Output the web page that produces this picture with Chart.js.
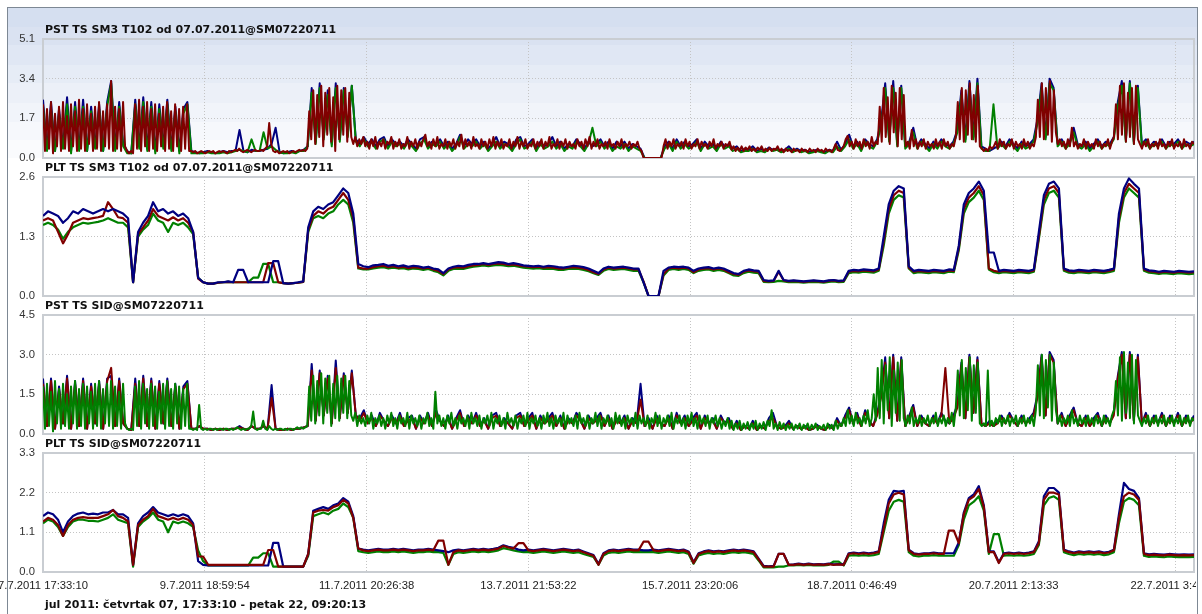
<!DOCTYPE html>
<html>
<head>
<meta charset="utf-8">
<script src="https://cdn.jsdelivr.net/npm/chart.js@4.4.0/dist/chart.umd.min.js"></script>
<style>
  html, body { margin: 0; padding: 0; width: 1202px; height: 614px; overflow: hidden; background: #fff; }
  #frame {
    position: absolute; left: 7px; top: 7px; width: 1189px; height: 620px;
    border: 1px solid #7d8894; border-bottom: none;
    background: linear-gradient(to bottom,
      #d5dff0 0px, #d5dff0 19px, #dae2f1 19px, #dae2f1 37px,
      #e0e7f4 37px, #e0e7f4 57px, #e6ecf6 57px, #e6ecf6 75px,
      #ecf0f8 75px, #ecf0f8 95px, #f1f4fa 95px, #f1f4fa 114px,
      #f6f8fc 114px, #f6f8fc 132px, #fafbfd 132px, #fafbfd 150px,
      #ffffff 150px, #ffffff 100%);
  }
  .panel { position: absolute; left: 0; }
  .title {
    position: absolute; left: 45px; line-height: 13px; white-space: nowrap;
    font: bold 11px "DejaVu Sans", Verdana, sans-serif; color: #111;
  }
</style>
</head>
<body>
<div id="frame"></div>
<canvas id="c1" class="panel" width="1196" height="135" style="top:31px"></canvas>
<canvas id="c2" class="panel" width="1196" height="135" style="top:169px"></canvas>
<canvas id="c3" class="panel" width="1196" height="135" style="top:307px"></canvas>
<canvas id="c4" class="panel" width="1196" height="157" style="top:445px"></canvas>
<div class="title" style="top:23px">PST TS SM3 T102 od 07.07.2011@SM07220711</div>
<div class="title" style="top:161px">PLT TS SM3 T102 od 07.07.2011@SM07220711</div>
<div class="title" style="top:299px">PST TS SID@SM07220711</div>
<div class="title" style="top:437px">PLT TS SID@SM07220711</div>
<div class="title" style="top:598px">jul 2011: četvrtak 07, 17:33:10 - petak 22, 09:20:13</div>
<script>
// time axis: seconds from 7.7.2011 17:33:10 to 22.7.2011 09:20:13
const TOTAL_SEC = 1266423;
const xTickSecs = [0, 178004, 356008, 534012, 712016, 890019, 1068023, 1246027];
const xTickLabels = ['7.7.2011 17:33:10', '9.7.2011 18:59:54', '11.7.2011 20:26:38', '13.7.2011 21:53:22',
  '15.7.2011 23:20:06', '18.7.2011 0:46:49', '20.7.2011 2:13:33', '22.7.2011 3:40:17'];

const yTicksPstSm3 = [0, 1.7, 3.4, 5.1];
const yTicksPltSm3 = [0, 1.3, 2.6];
const yTicksPstSid = [0, 1.5, 3.0, 4.5];
const yTicksPltSid = [0, 1.1, 2.2, 3.3];

// PST TS SM3 T102, red (576 samples)
const pstSm3Red = [
  2.3, 0.3, 2.1, 0.4, 2.4, 0.2, 1.9, 0.5, 2.2, 0.3,
  2.4, 0.4, 1.8, 0.3, 2.3, 0.5, 2.0, 0.3, 2.5, 0.4,
  2.1, 0.3, 2.3, 0.6, 1.9, 0.3, 2.2, 0.4, 2.4, 0.3,
  2.0, 0.5, 2.3, 0.4, 3.3, 0.3, 2.2, 0.4, 2.1, 0.3,
  2.4, 0.5, 0.3, 0.2, 0.3, 0.2, 2.3, 0.4, 2.5, 0.3,
  2.2, 0.5, 2.4, 0.3, 2.1, 0.4, 2.3, 0.3, 1.9, 0.5,
  2.2, 0.3, 2.4, 0.4, 2.0, 0.3, 2.3, 0.5, 2.1, 0.3,
  2.2, 0.4, 2.3, 0.3, 0.3, 0.25, 0.3, 0.2, 0.25, 0.3,
  0.25, 0.2, 0.25, 0.3, 0.25, 0.3, 0.2, 0.25, 0.3, 0.25,
  0.3, 0.25, 0.2, 0.3, 0.25, 0.3, 0.35, 0.3, 0.4, 0.3,
  0.25, 0.3, 0.35, 0.3, 0.25, 0.3, 0.35, 0.3, 0.3, 0.35,
  0.3, 0.4, 0.5, 1.5, 0.6, 0.3, 0.25, 0.3, 0.2, 0.25,
  0.3, 0.25, 0.3, 0.2, 0.25, 0.3, 0.25, 0.3, 0.35, 0.3,
  0.35, 0.3, 0.4, 2.0, 0.8, 2.9, 0.6, 2.7, 0.9, 3.1,
  0.5, 2.8, 1.0, 3.0, 0.7, 2.6, 0.3, 3.1, 0.8, 2.9,
  1.0, 3.0, 0.7, 2.8, 0.9, 0.6, 0.9, 0.5, 0.8, 0.6,
  0.9, 0.5, 0.7, 0.4, 0.8, 0.5, 0.9, 0.4, 0.7, 0.5,
  0.8, 0.4, 0.7, 0.6, 0.9, 0.4, 0.7, 0.5, 0.8, 0.4,
  0.6, 0.5, 0.9, 0.4, 0.7, 0.5, 0.8, 0.4, 0.7, 0.5,
  0.8, 1.0, 0.5, 0.7, 0.4, 0.8, 0.5, 0.9, 0.4, 0.6,
  0.5, 0.8, 0.4, 0.7, 0.5, 0.8, 0.4, 0.7, 0.5, 1.0,
  0.4, 0.8, 0.5, 0.7, 0.4, 0.9, 0.5, 0.6, 0.4, 0.8,
  0.5, 0.7, 0.4, 0.8, 0.5, 0.9, 0.4, 0.7, 0.5, 0.8,
  0.4, 0.6, 0.5, 0.8, 0.4, 0.7, 0.5, 0.9, 0.4, 0.7,
  0.5, 0.8, 0.4, 0.6, 0.5, 0.8, 0.4, 0.7, 0.5, 0.8,
  0.4, 0.7, 0.5, 0.9, 0.4, 0.6, 0.5, 0.8, 0.4, 0.7,
  0.5, 0.8, 0.4, 0.7, 0.5, 0.6, 0.4, 0.8, 0.5, 0.7,
  0.4, 0.8, 0.5, 0.9, 0.4, 0.7, 0.5, 0.8, 0.4, 0.6,
  0.5, 0.7, 0.4, 0.8, 0.5, 0.6, 0.4, 0.7, 0.5, 0.8,
  0.4, 0.6, 0.5, 0.7, 0.4, 0.6, 0.5, 0.7, 0.4, 0.3,
  0, 0, 0, 0, 0, 0, 0, 0, 0, 0,
  0.5, 0.8, 0.4, 0.7, 0.5, 0.8, 0.4, 0.6, 0.5, 0.7,
  0.4, 0.8, 0.5, 0.7, 0.4, 0.6, 0.5, 0.8, 0.4, 0.7,
  0.5, 0.6, 0.4, 0.7, 0.5, 0.8, 0.4, 0.6, 0.5, 0.7,
  0.4, 0.6, 0.5, 0.7, 0.35, 0.5, 0.3, 0.45, 0.3, 0.5,
  0.3, 0.45, 0.35, 0.5, 0.3, 0.4, 0.3, 0.45, 0.35, 0.5,
  0.3, 0.4, 0.3, 0.45, 0.3, 0.4, 0.35, 0.5, 0.3, 0.4,
  0.25, 0.4, 0.3, 0.35, 0.25, 0.4, 0.3, 0.35, 0.25, 0.4,
  0.3, 0.35, 0.25, 0.4, 0.3, 0.35, 0.25, 0.4, 0.3, 0.35,
  0.25, 0.4, 0.3, 0.35, 0.25, 0.4, 0.6, 0.35, 0.3, 0.4,
  0.5, 0.8, 0.95, 0.5, 0.7, 0.4, 0.8, 0.5, 0.7, 0.4,
  0.8, 0.5, 0.7, 0.4, 0.9, 0.5, 0.7, 0.6, 2.2, 0.7,
  3.0, 0.9, 2.6, 0.6, 3.1, 1.1, 2.8, 0.5, 3.0, 0.8,
  2.7, 0.5, 0.7, 0.4, 1.2, 0.5, 0.8, 0.4, 0.7, 0.5,
  0.8, 0.4, 0.7, 0.5, 0.6, 0.4, 0.8, 0.5, 0.7, 0.4,
  0.8, 0.5, 0.7, 0.4, 0.6, 0.5, 0.9, 2.4, 0.8, 3.0,
  0.7, 2.9, 1.0, 3.2, 0.8, 2.7, 0.7, 3.1, 0.5, 0.4,
  0.3, 0.4, 0.3, 0.5, 0.4, 0.5, 0.7, 0.4, 0.8, 0.5,
  0.7, 0.4, 0.6, 0.5, 0.8, 0.4, 0.7, 0.5, 0.6, 0.4,
  0.8, 0.5, 0.7, 0.4, 0.6, 0.5, 0.9, 2.5, 0.9, 3.2,
  0.8, 3.0, 1.0, 3.3, 0.7, 2.9, 1.1, 0.6, 0.8, 0.5,
  0.7, 0.4, 0.8, 0.5, 1.3, 0.5, 0.7, 0.4, 0.6, 0.5,
  0.8, 0.4, 0.7, 0.5, 0.6, 0.4, 0.8, 0.5, 0.7, 0.4,
  0.6, 0.5, 0.8, 0.4, 0.7, 0.9, 2.3, 0.8, 3.1, 1.0,
  3.2, 0.7, 2.8, 0.9, 3.0, 0.6, 3.1, 0.8, 0.6, 0.4,
  0.7, 0.5, 0.8, 0.4, 0.6, 0.5, 0.7, 0.4, 0.8, 0.5,
  0.6, 0.4, 0.7, 0.5, 0.8, 0.4, 0.6, 0.5, 0.7, 0.4,
  0.8, 0.5, 0.6, 0.4, 0.7, 0.6
];
// PST TS SM3 T102, blue and green (288 samples)
const pstSm3Blue = [
  2.5, 0.4, 2.4, 0.3, 2.1, 0.5, 2.6, 0.3, 2.4, 0.4,
  2.5, 0.3, 2.2, 0.5, 2.3, 0.3, 2.4, 3.3, 0.4, 2.4,
  0.6, 0.3, 0.2, 2.5, 0.5, 2.6, 0.4, 2.4, 0.3, 2.3,
  0.5, 2.5, 0.4, 2.2, 0.3, 2.1, 2.4, 0.3, 0.25, 0.2,
  0.25, 0.3, 0.25, 0.2, 0.25, 0.3, 0.25, 0.3, 0.3, 1.2,
  0.3, 0.25, 0.35, 0.3, 0.3, 0.35, 0.4, 0.6, 1.3, 0.25,
  0.2, 0.25, 0.3, 0.25, 0.3, 0.35, 0.5, 3.0, 0.7, 3.2,
  0.9, 2.9, 0.6, 3.2, 0.8, 3.0, 1.0, 3.1, 0.8, 0.6,
  0.9, 0.6, 0.8, 0.5, 0.8, 0.9, 0.5, 0.8, 0.6, 0.7,
  0.5, 0.8, 0.6, 0.4, 0.8, 0.9, 0.5, 0.7, 0.6, 0.8,
  0.5, 0.7, 0.4, 0.6, 1.0, 0.5, 0.8, 0.6, 0.8, 0.5,
  0.7, 0.4, 0.6, 0.9, 0.5, 0.7, 0.6, 0.4, 0.8, 0.9,
  0.5, 0.6, 0.8, 0.4, 0.7, 0.5, 0.6, 0.9, 0.5, 0.7,
  0.4, 0.6, 0.5, 0.8, 0.6, 0.4, 0.7, 0.5, 0.6, 0.8,
  0.5, 0.7, 0.4, 0.7, 0.5, 0.7, 0.4, 0.6, 0.5, 0.4,
  0, 0, 0, 0, 0, 0.5, 0.7, 0.4, 0.8, 0.5,
  0.7, 0.5, 0.6, 0.8, 0.4, 0.7, 0.5, 0.6, 0.4, 0.7,
  0.5, 0.6, 0.4, 0.5, 0.3, 0.4, 0.35, 0.5, 0.3, 0.4,
  0.3, 0.45, 0.35, 0.4, 0.3, 0.35, 0.5, 0.3, 0.4, 0.3,
  0.35, 0.25, 0.3, 0.35, 0.3, 0.25, 0.35, 0.3, 0.7, 0.35,
  0.6, 1.0, 0.5, 0.7, 0.4, 0.8, 0.6, 0.5, 0.8, 1.6,
  3.2, 0.8, 3.3, 0.6, 3.1, 0.5, 0.7, 1.3, 0.5, 0.8,
  0.6, 0.4, 0.7, 0.5, 0.8, 0.6, 0.5, 0.7, 1.2, 2.9,
  0.8, 3.3, 0.9, 3.4, 0.5, 0.4, 0.3, 0.4, 0.5, 0.7,
  0.5, 0.8, 0.6, 0.4, 0.7, 0.5, 0.6, 0.8, 1.7, 3.2,
  0.9, 3.4, 3.0, 0.6, 0.8, 0.5, 0.7, 1.3, 0.6, 0.5,
  0.7, 0.4, 0.6, 0.8, 0.5, 0.7, 0.6, 0.9, 2.4, 3.3,
  0.8, 3.3, 0.7, 3.1, 0.6, 0.8, 0.5, 0.7, 0.6, 0.8,
  0.5, 0.7, 0.6, 0.8, 0.5, 0.7, 0.6, 0.7
];
const pstSm3Green = [
  2.2, 0.3, 2.1, 0.3, 1.9, 0.4, 2.3, 0.2, 2.2, 0.3,
  2.2, 0.3, 2.0, 0.4, 2.1, 0.3, 2.2, 3.2, 0.3, 2.2,
  0.5, 0.2, 0.2, 2.3, 0.4, 2.4, 0.3, 2.2, 0.2, 2.1,
  0.4, 2.3, 0.3, 2.0, 0.2, 1.9, 2.3, 0.2, 0.2, 0.2,
  0.2, 0.25, 0.2, 0.2, 0.2, 0.25, 0.2, 0.25, 0.3, 0.35,
  0.3, 0.25, 0.8, 0.3, 0.3, 1.1, 0.4, 0.5, 0.35, 0.25,
  0.2, 0.2, 0.25, 0.2, 0.3, 0.3, 0.5, 2.8, 0.6, 3.0,
  0.8, 2.7, 0.5, 3.0, 0.7, 2.9, 0.9, 3.1, 0.7, 0.5,
  0.8, 0.5, 0.7, 0.4, 0.7, 0.8, 0.4, 0.7, 0.5, 0.6,
  0.4, 0.7, 0.5, 0.3, 0.6, 0.8, 0.4, 0.6, 0.5, 0.7,
  0.4, 0.6, 0.3, 0.5, 0.9, 0.4, 0.6, 0.5, 0.7, 0.4,
  0.6, 0.3, 0.5, 0.7, 0.4, 0.6, 0.5, 0.3, 0.6, 0.8,
  0.4, 0.5, 0.7, 0.3, 0.6, 0.4, 0.5, 0.7, 0.4, 0.6,
  0.3, 0.5, 0.4, 0.7, 0.5, 0.3, 0.6, 1.3, 0.5, 0.7,
  0.4, 0.6, 0.3, 0.5, 0.4, 0.6, 0.3, 0.5, 0.4, 0.3,
  0, 0, 0, 0, 0, 0.4, 0.6, 0.3, 0.7, 0.4,
  0.6, 0.4, 0.5, 0.7, 0.3, 0.6, 0.4, 0.5, 0.3, 0.6,
  0.4, 0.5, 0.3, 0.4, 0.25, 0.3, 0.3, 0.4, 0.25, 0.3,
  0.25, 0.4, 0.3, 0.35, 0.25, 0.3, 0.4, 0.25, 0.35, 0.25,
  0.3, 0.2, 0.25, 0.3, 0.25, 0.2, 0.3, 0.25, 0.5, 0.3,
  0.5, 0.8, 0.4, 0.6, 0.3, 0.7, 0.5, 0.4, 0.7, 1.4,
  3.0, 0.7, 3.0, 0.5, 3.0, 0.4, 0.6, 1.1, 0.4, 0.7,
  0.5, 0.3, 0.6, 0.4, 0.7, 0.5, 0.4, 0.6, 1.1, 2.7,
  0.7, 3.0, 0.8, 3.2, 0.4, 0.3, 0.3, 2.3, 0.4, 0.6,
  0.4, 0.7, 0.5, 0.3, 0.6, 0.4, 0.5, 0.7, 1.5, 3.0,
  0.8, 3.2, 2.9, 0.5, 0.7, 0.4, 0.6, 1.1, 0.5, 0.4,
  0.6, 0.3, 0.5, 0.7, 0.4, 0.6, 0.5, 0.8, 2.2, 3.1,
  0.7, 3.2, 0.6, 3.0, 0.5, 0.7, 0.4, 0.6, 0.5, 0.7,
  0.4, 0.6, 0.5, 0.7, 0.4, 0.6, 0.5, 0.6
];

// PLT TS SM3 T102 (231 samples)
const pltSm3Blue = [
  1.75, 1.85, 1.8, 1.75, 1.6, 1.7, 1.85, 1.8, 1.9, 1.85,
  1.8, 1.85, 1.9, 1.85, 1.9, 1.85, 1.8, 1.7, 0.3, 1.4,
  1.6, 1.75, 2.05, 1.85, 1.9, 1.8, 1.85, 1.75, 1.8, 1.7,
  1.4, 0.4, 0.3, 0.27, 0.27, 0.3, 0.3, 0.32, 0.3, 0.57,
  0.57, 0.3, 0.3, 0.3, 0.3, 0.3, 0.76, 0.76, 0.28, 0.27,
  0.28, 0.3, 0.32, 1.5, 1.85, 1.95, 1.9, 2.0, 2.05, 2.2,
  2.35, 2.25, 1.8, 0.7, 0.65, 0.63, 0.67, 0.68, 0.7, 0.66,
  0.68, 0.65, 0.67, 0.64, 0.66, 0.65, 0.62, 0.64, 0.6, 0.58,
  0.5, 0.6, 0.64, 0.66, 0.65, 0.68, 0.7, 0.7, 0.72, 0.7,
  0.72, 0.74, 0.73, 0.7, 0.72, 0.7, 0.67, 0.66, 0.65, 0.66,
  0.64, 0.66, 0.65, 0.63, 0.62, 0.64, 0.66, 0.65, 0.63, 0.6,
  0.55, 0.5, 0.6, 0.64, 0.62, 0.63, 0.64, 0.62, 0.6, 0.6,
  0.3, 0.0, 0.0, 0.0, 0.55, 0.62, 0.64, 0.63, 0.64, 0.62,
  0.55, 0.6, 0.62, 0.63, 0.6, 0.62, 0.6, 0.55, 0.5, 0.48,
  0.55, 0.58, 0.56, 0.55, 0.35, 0.33, 0.34, 0.55, 0.35, 0.33,
  0.34, 0.33, 0.32, 0.33, 0.34, 0.33, 0.32, 0.34, 0.35, 0.33,
  0.34, 0.55, 0.57, 0.56, 0.58, 0.57, 0.56, 0.6, 1.3, 2.0,
  2.3, 2.4, 2.35, 0.65, 0.55, 0.57, 0.56, 0.55, 0.57, 0.56,
  0.55, 0.58, 0.57, 1.1, 2.0, 2.25, 2.35, 2.5, 2.3, 0.95,
  0.95, 0.55, 0.57, 0.56, 0.55, 0.57, 0.56, 0.55, 0.58, 1.4,
  2.2, 2.45, 2.5, 2.35, 0.6, 0.56, 0.55, 0.57, 0.56, 0.55,
  0.57, 0.56, 0.55, 0.57, 0.6, 1.8, 2.35, 2.57, 2.45, 2.35,
  0.6, 0.56, 0.55, 0.53, 0.55, 0.54, 0.53, 0.55, 0.54, 0.53,
  0.54
];
const pltSm3Red = [
  1.65, 1.7, 1.65, 1.4, 1.15, 1.35, 1.6, 1.65, 1.7, 1.68,
  1.7, 1.72, 1.75, 2.05, 1.9, 1.72, 1.7, 1.6, 0.3, 1.35,
  1.5, 1.65, 1.9, 1.75, 1.7, 1.65, 1.72, 1.65, 1.7, 1.6,
  1.4, 0.38, 0.3, 0.27, 0.27, 0.29, 0.3, 0.31, 0.3, 0.3,
  0.3, 0.3, 0.3, 0.3, 0.3, 0.72, 0.72, 0.3, 0.28, 0.27,
  0.28, 0.29, 0.31, 1.45, 1.75, 1.85, 1.8, 1.9, 1.95, 2.1,
  2.25, 2.1, 1.7, 0.62, 0.6, 0.6, 0.63, 0.65, 0.66, 0.63,
  0.65, 0.62, 0.64, 0.61, 0.63, 0.62, 0.6, 0.62, 0.58, 0.55,
  0.48, 0.58, 0.62, 0.63, 0.62, 0.65, 0.67, 0.68, 0.7, 0.68,
  0.7, 0.71, 0.7, 0.68, 0.69, 0.67, 0.65, 0.64, 0.63, 0.64,
  0.62, 0.63, 0.62, 0.6, 0.6, 0.62, 0.63, 0.62, 0.6, 0.57,
  0.52, 0.48, 0.58, 0.62, 0.6, 0.61, 0.62, 0.6, 0.58, 0.58,
  0.32, 0.0, 0.0, 0.0, 0.48, 0.6, 0.62, 0.6, 0.62, 0.6,
  0.52, 0.58, 0.6, 0.61, 0.58, 0.6, 0.58, 0.52, 0.48, 0.46,
  0.53, 0.56, 0.54, 0.53, 0.33, 0.32, 0.33, 0.53, 0.34, 0.32,
  0.33, 0.32, 0.31, 0.32, 0.33, 0.32, 0.31, 0.33, 0.34, 0.32,
  0.33, 0.53, 0.55, 0.54, 0.56, 0.55, 0.54, 0.58, 1.2, 1.9,
  2.2, 2.3, 2.25, 0.62, 0.53, 0.55, 0.54, 0.53, 0.55, 0.54,
  0.53, 0.56, 0.55, 1.05, 1.9, 2.15, 2.25, 2.4, 2.2, 0.6,
  0.55, 0.53, 0.55, 0.54, 0.53, 0.55, 0.54, 0.53, 0.56, 1.3,
  2.1, 2.35, 2.4, 2.25, 0.58, 0.54, 0.53, 0.55, 0.54, 0.53,
  0.55, 0.54, 0.53, 0.55, 0.58, 1.7, 2.25, 2.45, 2.35, 2.25,
  0.58, 0.54, 0.53, 0.51, 0.53, 0.52, 0.51, 0.53, 0.52, 0.51,
  0.52
];
const pltSm3Green = [
  1.55, 1.6, 1.55, 1.45, 1.25, 1.4, 1.5, 1.55, 1.6, 1.58,
  1.6, 1.62, 1.65, 1.7, 1.65, 1.6, 1.6, 1.5, 0.3, 1.3,
  1.45, 1.55, 1.8, 1.65, 1.6, 1.4, 1.6, 1.55, 1.6, 1.5,
  1.35, 0.4, 0.3, 0.27, 0.27, 0.29, 0.3, 0.31, 0.3, 0.3,
  0.3, 0.3, 0.4, 0.4, 0.7, 0.7, 0.3, 0.3, 0.28, 0.27,
  0.28, 0.29, 0.31, 1.4, 1.7, 1.75, 1.7, 1.8, 1.85, 2.0,
  2.1, 2.0, 1.6, 0.6, 0.58, 0.58, 0.6, 0.62, 0.63, 0.6,
  0.62, 0.6, 0.61, 0.58, 0.6, 0.59, 0.57, 0.59, 0.55, 0.52,
  0.45, 0.55, 0.59, 0.6, 0.59, 0.62, 0.64, 0.65, 0.67, 0.65,
  0.67, 0.68, 0.67, 0.65, 0.66, 0.64, 0.62, 0.61, 0.6, 0.61,
  0.59, 0.6, 0.59, 0.57, 0.57, 0.59, 0.6, 0.59, 0.57, 0.54,
  0.5, 0.46, 0.55, 0.59, 0.57, 0.58, 0.59, 0.57, 0.55, 0.55,
  0.3, 0.0, 0.0, 0.0, 0.45, 0.57, 0.59, 0.57, 0.59, 0.57,
  0.5, 0.55, 0.57, 0.58, 0.55, 0.57, 0.55, 0.5, 0.45, 0.44,
  0.5, 0.53, 0.51, 0.5, 0.31, 0.3, 0.31, 0.33, 0.32, 0.3,
  0.31, 0.3, 0.29, 0.3, 0.31, 0.3, 0.29, 0.31, 0.32, 0.3,
  0.31, 0.5, 0.52, 0.51, 0.53, 0.52, 0.51, 0.55, 1.1, 1.8,
  2.1, 2.2, 2.15, 0.6, 0.5, 0.52, 0.51, 0.5, 0.52, 0.51,
  0.5, 0.53, 0.52, 1.0, 1.8, 2.05, 2.15, 2.3, 2.1, 0.58,
  0.52, 0.5, 0.52, 0.51, 0.5, 0.52, 0.51, 0.5, 0.53, 1.25,
  2.0, 2.25, 2.3, 2.15, 0.55, 0.51, 0.5, 0.52, 0.51, 0.5,
  0.52, 0.51, 0.5, 0.52, 0.55, 1.6, 2.15, 2.35, 2.25, 2.15,
  0.55, 0.51, 0.5, 0.48, 0.5, 0.49, 0.48, 0.5, 0.49, 0.48,
  0.49
];

// PST TS SID, green (576 samples)
const pstSidGreen = [
  1.8, 0.2, 1.9, 0.3, 1.6, 0.1, 2.0, 0.4, 1.7, 0.2,
  1.9, 0.3, 1.5, 0.2, 1.8, 0.4, 2.0, 0.2, 1.7, 0.3,
  1.9, 0.2, 1.8, 0.4, 1.6, 0.2, 1.9, 0.3, 2.0, 0.2,
  1.7, 0.4, 1.9, 0.3, 2.0, 0.2, 1.8, 0.3, 1.6, 0.2,
  1.9, 0.4, 0.2, 0.15, 0.2, 0.15, 1.8, 0.3, 2.0, 0.2,
  1.9, 0.4, 1.7, 0.2, 1.9, 0.3, 1.8, 0.2, 1.6, 0.4,
  1.9, 0.2, 2.0, 0.3, 1.7, 0.2, 1.9, 0.4, 1.8, 0.2,
  1.7, 0.3, 1.9, 0.2, 0.2, 0.15, 0.2, 0.15, 1.1, 0.2,
  0.15, 0.2, 0.15, 0.2, 0.2, 0.15, 0.2, 0.15, 0.2, 0.2,
  0.15, 0.2, 0.2, 0.15, 0.2, 0.15, 0.2, 0.25, 0.2, 0.15,
  0.2, 0.15, 0.2, 0.2, 0.3, 0.85, 0.2, 0.15, 0.2, 0.2,
  0.5, 0.2, 0.15, 0.3, 0.2, 0.15, 0.2, 0.15, 0.2, 0.2,
  0.15, 0.2, 0.15, 0.2, 0.2, 0.15, 0.2, 0.25, 0.2, 0.25,
  0.2, 0.25, 0.3, 1.8, 0.5, 2.2, 0.4, 2.0, 0.7, 2.3,
  0.4, 2.1, 0.8, 2.2, 0.3, 1.9, 0.6, 2.2, 0.5, 2.1,
  0.8, 2.2, 0.6, 2.0, 0.7, 0.5, 0.8, 0.3, 0.7, 0.4,
  0.6, 0.3, 0.7, 0.4, 0.8, 0.2, 0.6, 0.4, 0.7, 0.3,
  0.6, 0.2, 0.7, 0.4, 0.8, 0.3, 0.6, 0.2, 0.7, 0.4,
  0.6, 0.3, 0.8, 0.2, 0.7, 0.4, 0.6, 0.3, 0.7, 0.2,
  0.6, 0.4, 0.8, 0.3, 0.6, 0.2, 1.6, 0.4, 0.7, 0.3,
  0.6, 0.2, 0.7, 0.4, 0.8, 0.3, 0.6, 0.2, 0.7, 0.4,
  0.6, 0.3, 0.7, 0.2, 0.8, 0.4, 0.6, 0.3, 0.7, 0.2,
  0.6, 0.4, 0.7, 0.3, 0.8, 0.2, 0.6, 0.4, 0.7, 0.3,
  0.6, 0.2, 0.8, 0.4, 0.6, 0.3, 0.7, 0.2, 0.6, 0.4,
  0.7, 0.3, 0.8, 0.2, 0.6, 0.4, 0.7, 0.3, 0.6, 0.2,
  0.7, 0.4, 0.8, 0.3, 0.6, 0.2, 0.7, 0.4, 0.6, 0.3,
  0.8, 0.2, 0.7, 0.4, 0.6, 0.3, 0.7, 0.2, 0.8, 0.4,
  0.6, 0.3, 0.7, 0.2, 0.6, 0.4, 0.8, 0.3, 0.7, 0.2,
  0.6, 0.4, 0.7, 0.3, 0.6, 0.2, 0.8, 0.4, 0.7, 0.3,
  0.6, 0.2, 0.7, 0.4, 0.6, 0.3, 0.8, 0.2, 0.7, 0.4,
  0.6, 0.3, 0.7, 0.2, 0.6, 0.4, 0.8, 0.3, 0.7, 0.2,
  0.6, 0.4, 0.7, 0.3, 0.8, 0.2, 0.6, 0.4, 0.7, 0.3,
  0.6, 0.2, 0.7, 0.4, 0.8, 0.3, 0.6, 0.2, 0.7, 0.4,
  0.6, 0.3, 0.7, 0.2, 0.6, 0.4, 0.7, 0.3, 0.6, 0.2,
  0.5, 0.3, 0.6, 0.2, 0.5, 0.15, 0.4, 0.2, 0.5, 0.15,
  0.4, 0.2, 0.45, 0.15, 0.4, 0.2, 0.5, 0.15, 0.4, 0.2,
  0.45, 0.15, 0.5, 0.3, 0.9, 0.2, 0.4, 0.15, 0.45, 0.2,
  0.4, 0.15, 0.35, 0.2, 0.4, 0.15, 0.35, 0.2, 0.4, 0.15,
  0.35, 0.2, 0.4, 0.15, 0.35, 0.2, 0.4, 0.15, 0.3, 0.2,
  0.35, 0.15, 0.4, 0.2, 0.35, 0.15, 0.5, 0.2, 0.4, 0.3,
  0.6, 0.3, 0.9, 0.4, 0.7, 0.3, 0.8, 0.4, 0.6, 0.3,
  0.7, 0.4, 0.9, 0.3, 0.6, 1.5, 0.5, 2.5, 0.6, 2.8,
  0.4, 2.6, 0.9, 2.9, 0.3, 2.4, 0.8, 2.7, 0.5, 2.8,
  0.6, 0.3, 0.7, 0.4, 1.0, 0.3, 0.6, 0.4, 0.7, 0.3,
  0.6, 0.4, 0.7, 0.3, 0.6, 0.4, 0.8, 0.3, 0.6, 0.4,
  0.7, 0.3, 0.6, 0.4, 0.8, 0.3, 1.0, 2.4, 0.7, 2.8,
  0.6, 2.5, 0.9, 2.9, 0.5, 2.6, 0.8, 2.7, 0.4, 0.3,
  0.4, 0.3, 2.4, 0.3, 0.5, 0.3, 0.6, 0.4, 0.7, 0.3,
  0.6, 0.4, 0.7, 0.3, 0.6, 0.4, 0.7, 0.3, 0.6, 0.4,
  0.7, 0.3, 0.6, 0.4, 0.7, 0.3, 0.9, 2.6, 0.7, 3.0,
  0.6, 2.8, 1.0, 3.0, 0.5, 2.7, 0.9, 0.4, 0.7, 0.3,
  0.6, 0.4, 0.7, 0.3, 0.9, 0.4, 0.6, 0.3, 0.7, 0.4,
  0.6, 0.3, 0.7, 0.4, 0.6, 0.3, 0.7, 0.4, 0.6, 0.3,
  0.7, 0.4, 0.6, 0.3, 0.7, 0.9, 2.0, 0.7, 2.9, 0.5,
  3.1, 0.8, 2.7, 0.6, 3.0, 0.4, 2.8, 0.7, 0.5, 0.3,
  0.6, 0.4, 0.7, 0.3, 0.6, 0.4, 0.7, 0.3, 0.6, 0.4,
  0.7, 0.3, 0.6, 0.4, 0.7, 0.3, 0.6, 0.4, 0.7, 0.3,
  0.6, 0.4, 0.7, 0.3, 0.6, 0.5
];
// PST TS SID, red and blue (288 samples)
const pstSidRed = [
  1.9, 0.3, 2.0, 0.2, 1.7, 0.4, 2.1, 0.2, 1.9, 0.3,
  2.0, 0.2, 1.8, 0.4, 1.9, 0.2, 2.0, 2.5, 0.3, 2.0,
  0.4, 0.2, 0.15, 1.9, 0.3, 2.1, 0.3, 2.0, 0.2, 1.9,
  0.4, 2.0, 0.3, 1.8, 0.2, 1.7, 1.9, 0.2, 0.2, 0.3,
  0.2, 0.2, 0.15, 0.2, 0.15, 0.2, 0.15, 0.2, 0.2, 0.25,
  0.2, 0.15, 0.3, 0.2, 0.2, 0.3, 0.2, 1.36, 0.2, 0.15,
  0.15, 0.2, 0.15, 0.2, 0.2, 0.25, 0.3, 2.4, 0.5, 2.3,
  0.7, 2.1, 0.4, 2.5, 0.6, 2.2, 0.8, 2.3, 0.7, 0.5,
  0.8, 0.4, 0.6, 0.3, 0.7, 0.5, 0.3, 0.6, 0.4, 0.7,
  0.3, 0.5, 0.6, 0.2, 0.6, 0.4, 0.7, 0.3, 0.8, 0.5,
  0.3, 0.6, 0.2, 0.5, 0.8, 0.3, 0.6, 0.4, 0.7, 0.3,
  0.5, 0.2, 0.6, 0.7, 0.3, 0.5, 0.4, 0.2, 0.6, 0.7,
  0.3, 0.5, 0.7, 0.2, 0.6, 0.4, 0.5, 0.7, 0.3, 0.6,
  0.2, 0.5, 0.4, 0.7, 0.5, 0.2, 0.6, 0.4, 0.5, 0.7,
  0.3, 0.6, 0.2, 0.5, 0.4, 0.6, 0.2, 0.5, 0.4, 1.3,
  0.3, 0.5, 0.2, 0.6, 0.4, 0.3, 0.6, 0.2, 0.7, 0.4,
  0.6, 0.3, 0.5, 0.7, 0.2, 0.6, 0.4, 0.5, 0.2, 0.6,
  0.4, 0.5, 0.2, 0.4, 0.15, 0.3, 0.2, 0.4, 0.15, 0.3,
  0.2, 0.5, 0.6, 0.3, 0.2, 0.25, 0.4, 0.2, 0.3, 0.2,
  0.25, 0.15, 0.2, 0.3, 0.2, 0.15, 0.3, 0.2, 0.5, 0.3,
  0.6, 0.9, 0.4, 0.7, 0.3, 0.8, 0.5, 0.3, 0.7, 1.4,
  2.7, 0.6, 2.9, 0.5, 2.8, 0.3, 0.6, 1.0, 0.3, 0.6,
  0.4, 0.3, 0.6, 0.4, 0.7, 2.5, 0.4, 0.6, 1.0, 2.6,
  0.6, 2.9, 0.8, 2.8, 0.4, 0.3, 0.4, 0.3, 0.4, 0.6,
  0.4, 0.7, 0.5, 0.3, 0.6, 0.4, 0.5, 0.7, 1.4, 2.9,
  0.7, 3.0, 2.7, 0.4, 0.7, 0.3, 0.6, 0.9, 0.4, 0.3,
  0.6, 0.3, 0.5, 0.7, 0.3, 0.6, 0.4, 0.7, 2.1, 3.0,
  0.6, 3.0, 0.5, 2.9, 0.4, 0.7, 0.3, 0.6, 0.4, 0.7,
  0.3, 0.6, 0.4, 0.7, 0.3, 0.6, 0.4, 0.6
];
const pstSidBlue = [
  2.1, 0.3, 2.1, 0.2, 1.8, 0.4, 2.2, 0.2, 2.0, 0.3,
  2.1, 0.2, 1.9, 0.4, 2.0, 0.2, 2.1, 2.2, 0.3, 2.1,
  0.4, 0.2, 0.15, 2.1, 0.3, 2.2, 0.3, 2.1, 0.2, 2.0,
  0.4, 2.1, 0.3, 1.9, 0.2, 1.8, 2.0, 0.2, 0.2, 0.3,
  0.2, 0.2, 0.15, 0.2, 0.15, 0.2, 0.15, 0.2, 0.2, 0.3,
  0.2, 0.15, 0.3, 0.2, 0.2, 0.3, 0.2, 1.85, 0.2, 0.15,
  0.15, 0.2, 0.15, 0.2, 0.2, 0.25, 0.3, 2.65, 0.5, 2.4,
  0.7, 2.2, 0.4, 2.78, 0.6, 2.3, 0.8, 2.4, 0.7, 0.6,
  0.9, 0.4, 0.7, 0.3, 0.8, 0.5, 0.3, 0.7, 0.4, 0.8,
  0.3, 0.6, 0.7, 0.2, 0.7, 0.4, 0.8, 0.3, 0.9, 0.5,
  0.3, 0.7, 0.2, 0.6, 0.9, 0.3, 0.7, 0.4, 0.8, 0.3,
  0.6, 0.2, 0.7, 0.8, 0.3, 0.6, 0.4, 0.2, 0.7, 0.8,
  0.3, 0.6, 0.8, 0.2, 0.7, 0.4, 0.6, 0.8, 0.3, 0.7,
  0.2, 0.6, 0.4, 0.8, 0.6, 0.2, 0.7, 0.4, 0.6, 0.8,
  0.3, 0.7, 0.2, 0.6, 0.4, 0.7, 0.2, 0.6, 0.4, 1.9,
  0.3, 0.6, 0.2, 0.7, 0.4, 0.3, 0.7, 0.2, 0.8, 0.4,
  0.7, 0.3, 0.6, 0.8, 0.2, 0.7, 0.4, 0.6, 0.2, 0.7,
  0.4, 0.6, 0.2, 0.5, 0.15, 0.3, 0.2, 0.5, 0.15, 0.3,
  0.2, 0.6, 0.8, 0.3, 0.2, 0.3, 0.5, 0.2, 0.3, 0.2,
  0.3, 0.15, 0.2, 0.35, 0.2, 0.15, 0.35, 0.2, 0.6, 0.3,
  0.7, 1.0, 0.4, 0.8, 0.3, 0.9, 0.5, 0.3, 0.8, 1.5,
  2.9, 0.6, 3.0, 0.5, 2.9, 0.3, 0.7, 1.1, 0.3, 0.7,
  0.4, 0.3, 0.7, 0.4, 0.8, 0.5, 0.4, 0.7, 1.1, 2.7,
  0.6, 3.0, 0.8, 2.9, 0.4, 0.3, 0.5, 0.3, 0.5, 0.7,
  0.4, 0.8, 0.5, 0.3, 0.7, 0.4, 0.6, 0.8, 1.5, 3.0,
  0.7, 3.1, 2.8, 0.4, 0.8, 0.3, 0.7, 1.0, 0.4, 0.3,
  0.7, 0.3, 0.6, 0.8, 0.3, 0.7, 0.4, 0.8, 2.2, 3.1,
  0.6, 3.1, 0.5, 3.0, 0.4, 0.8, 0.3, 0.7, 0.4, 0.8,
  0.3, 0.7, 0.4, 0.8, 0.3, 0.7, 0.4, 0.7
];

// PLT TS SID (231 samples)
const pltSidRed = [
  1.4, 1.5, 1.45, 1.3, 1.0, 1.3, 1.45, 1.5, 1.52, 1.5,
  1.5, 1.5, 1.55, 1.6, 1.72, 1.55, 1.5, 1.4, 0.2, 1.3,
  1.45, 1.55, 1.75, 1.55, 1.5, 1.45, 1.5, 1.45, 1.5, 1.45,
  1.3, 0.43, 0.43, 0.2, 0.2, 0.2, 0.2, 0.2, 0.2, 0.2,
  0.2, 0.2, 0.2, 0.2, 0.2, 0.61, 0.61, 0.15, 0.15, 0.15,
  0.15, 0.15, 0.15, 0.5, 1.65, 1.7, 1.72, 1.7, 1.8, 1.85,
  2.0, 1.9, 1.5, 0.65, 0.6, 0.58, 0.6, 0.62, 0.6, 0.6,
  0.62, 0.6, 0.62, 0.6, 0.58, 0.6, 0.6, 0.62, 0.6, 0.87,
  0.87, 0.2, 0.55, 0.6, 0.58, 0.6, 0.62, 0.6, 0.62, 0.6,
  0.62, 0.65, 0.72, 0.68, 0.65, 0.8, 0.8, 0.6, 0.58, 0.6,
  0.62, 0.6, 0.58, 0.6, 0.62, 0.6, 0.58, 0.6, 0.55, 0.5,
  0.45, 0.2, 0.5, 0.58, 0.6, 0.58, 0.6, 0.62, 0.6, 0.6,
  0.84, 0.84, 0.6, 0.58, 0.6, 0.62, 0.6, 0.58, 0.6, 0.55,
  0.25, 0.5, 0.55, 0.58, 0.55, 0.57, 0.55, 0.58, 0.6, 0.58,
  0.6, 0.58, 0.55, 0.35, 0.15, 0.15, 0.15, 0.5, 0.5, 0.2,
  0.2, 0.22, 0.2, 0.22, 0.2, 0.21, 0.2, 0.22, 0.2, 0.21,
  0.2, 0.5, 0.52, 0.5, 0.52, 0.5, 0.52, 0.55, 1.2, 1.9,
  2.15, 2.2, 2.15, 0.6, 0.5, 0.48, 0.5, 0.5, 0.52, 0.5,
  0.5, 1.15, 1.15, 0.8, 1.6, 2.0, 2.1, 2.3, 1.8, 0.55,
  0.55, 0.25, 0.5, 0.52, 0.5, 0.52, 0.5, 0.52, 0.55, 0.8,
  2.0, 2.2, 2.2, 2.15, 0.6, 0.55, 0.52, 0.55, 0.53, 0.55,
  0.53, 0.55, 0.52, 0.54, 0.6, 1.5, 2.1, 2.2, 2.15, 2.0,
  0.5, 0.47, 0.48, 0.47, 0.46, 0.48, 0.47, 0.46, 0.47, 0.46,
  0.47
];
const pltSidBlue = [
  1.55, 1.65, 1.6, 1.45, 1.1, 1.4, 1.55, 1.62, 1.65, 1.6,
  1.62, 1.6, 1.65, 1.65, 1.72, 1.6, 1.6, 1.5, 0.2, 1.35,
  1.55, 1.65, 1.8, 1.65, 1.6, 1.55, 1.6, 1.55, 1.6, 1.55,
  1.35, 0.3, 0.2, 0.18, 0.18, 0.18, 0.18, 0.18, 0.18, 0.18,
  0.18, 0.18, 0.18, 0.18, 0.18, 0.18, 0.81, 0.81, 0.15, 0.15,
  0.15, 0.15, 0.15, 0.5, 1.7, 1.75, 1.8, 1.75, 1.85, 1.9,
  2.05, 1.95, 1.55, 0.65, 0.62, 0.6, 0.62, 0.64, 0.62, 0.62,
  0.64, 0.62, 0.64, 0.62, 0.6, 0.62, 0.62, 0.64, 0.62, 0.6,
  0.58, 0.55, 0.6, 0.62, 0.6, 0.62, 0.64, 0.62, 0.64, 0.62,
  0.64, 0.67, 0.74, 0.7, 0.67, 0.62, 0.6, 0.62, 0.6, 0.62,
  0.64, 0.62, 0.6, 0.62, 0.64, 0.62, 0.6, 0.62, 0.57, 0.52,
  0.47, 0.22, 0.52, 0.6, 0.62, 0.6, 0.62, 0.64, 0.62, 0.62,
  0.6, 0.6, 0.62, 0.6, 0.62, 0.64, 0.62, 0.6, 0.62, 0.57,
  0.27, 0.52, 0.57, 0.6, 0.57, 0.59, 0.57, 0.6, 0.62, 0.6,
  0.62, 0.6, 0.57, 0.37, 0.17, 0.16, 0.17, 0.5, 0.5, 0.2,
  0.21, 0.23, 0.21, 0.23, 0.21, 0.22, 0.21, 0.23, 0.21, 0.22,
  0.21, 0.52, 0.54, 0.52, 0.54, 0.52, 0.54, 0.57, 1.35, 2.0,
  2.25, 2.23, 2.25, 0.62, 0.52, 0.5, 0.52, 0.52, 0.54, 0.52,
  0.52, 0.52, 0.52, 0.82, 1.65, 2.05, 2.15, 2.38, 1.85, 0.57,
  0.57, 0.27, 0.52, 0.54, 0.52, 0.54, 0.52, 0.54, 0.57, 0.85,
  2.1, 2.33, 2.33, 2.2, 0.62, 0.57, 0.54, 0.57, 0.55, 0.57,
  0.55, 0.57, 0.54, 0.56, 0.62, 1.6, 2.47, 2.3, 2.25, 2.05,
  0.52, 0.49, 0.5, 0.49, 0.48, 0.5, 0.49, 0.48, 0.49, 0.48,
  0.49
];
const pltSidGreen = [
  1.35, 1.45, 1.4, 1.25, 1.0, 1.25, 1.4, 1.45, 1.45, 1.42,
  1.42, 1.4, 1.45, 1.5, 1.6, 1.45, 1.4, 1.35, 0.15, 1.25,
  1.4, 1.5, 1.65, 1.45, 1.4, 1.1, 1.4, 1.35, 1.4, 1.35,
  1.25, 0.6, 0.3, 0.18, 0.18, 0.18, 0.18, 0.18, 0.18, 0.18,
  0.18, 0.18, 0.4, 0.4, 0.52, 0.52, 0.15, 0.15, 0.15, 0.15,
  0.15, 0.15, 0.15, 0.45, 1.55, 1.6, 1.65, 1.6, 1.7, 1.75,
  1.9, 1.8, 1.5, 0.58, 0.55, 0.53, 0.55, 0.57, 0.55, 0.55,
  0.57, 0.55, 0.57, 0.55, 0.53, 0.55, 0.55, 0.57, 0.55, 0.55,
  0.53, 0.2, 0.5, 0.55, 0.53, 0.55, 0.57, 0.55, 0.57, 0.55,
  0.57, 0.6, 0.66, 0.63, 0.6, 0.57, 0.55, 0.55, 0.53, 0.55,
  0.57, 0.55, 0.53, 0.55, 0.57, 0.55, 0.53, 0.55, 0.5, 0.46,
  0.42, 0.2, 0.46, 0.53, 0.55, 0.53, 0.55, 0.57, 0.55, 0.55,
  0.55, 0.55, 0.55, 0.53, 0.55, 0.57, 0.55, 0.53, 0.55, 0.5,
  0.23, 0.46, 0.5, 0.53, 0.5, 0.52, 0.5, 0.53, 0.55, 0.53,
  0.55, 0.53, 0.5, 0.32, 0.13, 0.13, 0.13, 0.15, 0.15, 0.18,
  0.18, 0.2, 0.18, 0.2, 0.18, 0.19, 0.18, 0.2, 0.29, 0.29,
  0.18, 0.45, 0.47, 0.45, 0.47, 0.45, 0.47, 0.5, 1.1, 1.7,
  1.95, 2.0, 1.95, 0.55, 0.45, 0.43, 0.45, 0.45, 0.47, 0.45,
  0.45, 0.45, 0.45, 0.75, 1.45, 1.85, 1.95, 2.1, 1.7, 0.5,
  1.05, 1.05, 0.45, 0.47, 0.45, 0.47, 0.45, 0.47, 0.5, 0.75,
  1.85, 2.05, 2.1, 2.0, 0.55, 0.5, 0.47, 0.5, 0.48, 0.5,
  0.48, 0.5, 0.47, 0.49, 0.55, 1.35, 1.95, 2.05, 2.0, 1.85,
  0.45, 0.42, 0.43, 0.42, 0.41, 0.43, 0.42, 0.41, 0.42, 0.41,
  0.42
];

const NAVY = '#000080';
const MAROON = '#800000';
const GREEN = '#008000';

// spread samples evenly over the whole time range
function toPoints(vals) {
  const step = TOTAL_SEC / (vals.length - 1);
  return vals.map((v, i) => ({ x: i * step, y: v }));
}

function line(vals, color, width) {
  return {
    data: toPoints(vals),
    borderColor: color,
    borderWidth: width,
    borderJoinStyle: 'round',
    pointRadius: 0,
    fill: false,
    tension: 0
  };
}

// light frame round the plot area
const framePlugin = {
  id: 'frame',
  beforeDatasetsDraw(chart) {
    const a = chart.chartArea;
    const ctx = chart.ctx;
    ctx.save();
    ctx.strokeStyle = '#c9cdd2';
    ctx.lineWidth = 2;
    ctx.strokeRect(a.left, a.top, a.right - a.left, a.bottom - a.top);
    ctx.restore();
  }
};

const tickFont = { family: "'Liberation Sans', Arial, sans-serif", size: 11.25 };

function makePanel(id, datasets, yTicks, showX) {
  const ctx = document.getElementById(id).getContext('2d');
  return new Chart(ctx, {
    type: 'line',
    data: { datasets: datasets },
    plugins: [framePlugin],
    options: {
      responsive: false,
      animation: false,
      events: [],
      layout: { padding: { top: 8, bottom: showX ? 0 : 8, left: 0, right: 2 } },
      plugins: { legend: { display: false }, tooltip: { enabled: false } },
      scales: {
        x: {
          type: 'linear',
          min: 0,
          max: TOTAL_SEC,
          afterBuildTicks: s => { s.ticks = xTickSecs.map(v => ({ value: v })); },
          afterFit: s => { s.paddingLeft = 0; s.paddingRight = 0; s.height = showX ? 30 : 0; },
          grid: { color: '#c4c4c4', lineWidth: 1, drawTicks: false },
          border: { display: false, dash: [1, 2] },
          ticks: {
            display: showX,
            maxRotation: 0,
            autoSkip: false,
            padding: 7,
            color: '#222',
            font: tickFont,
            callback: (v, i) => xTickLabels[i]
          }
        },
        y: {
          min: 0,
          max: yTicks[yTicks.length - 1],
          afterBuildTicks: s => { s.ticks = yTicks.map(v => ({ value: v })); },
          afterFit: s => { s.width = 43; s.paddingTop = 0; s.paddingBottom = 0; },
          grid: { color: '#c4c4c4', lineWidth: 1, drawTicks: false },
          border: { display: false, dash: [1, 2] },
          ticks: {
            padding: 8,
            color: '#333',
            font: tickFont,
            callback: v => v.toFixed(1)
          }
        }
      }
    }
  });
}

// first dataset is drawn on top
makePanel('c1', [line(pstSm3Red, MAROON, 2), line(pstSm3Green, GREEN, 2), line(pstSm3Blue, NAVY, 2)], yTicksPstSm3, false);
makePanel('c2', [line(pltSm3Blue, NAVY, 2.2), line(pltSm3Red, MAROON, 2.2), line(pltSm3Green, GREEN, 2.2)], yTicksPltSm3, false);
makePanel('c3', [line(pstSidGreen, GREEN, 2), line(pstSidRed, MAROON, 2), line(pstSidBlue, NAVY, 2)], yTicksPstSid, false);
makePanel('c4', [line(pltSidRed, MAROON, 2.2), line(pltSidBlue, NAVY, 2.2), line(pltSidGreen, GREEN, 2.2)], yTicksPltSid, true);
</script>
</body>
</html>
